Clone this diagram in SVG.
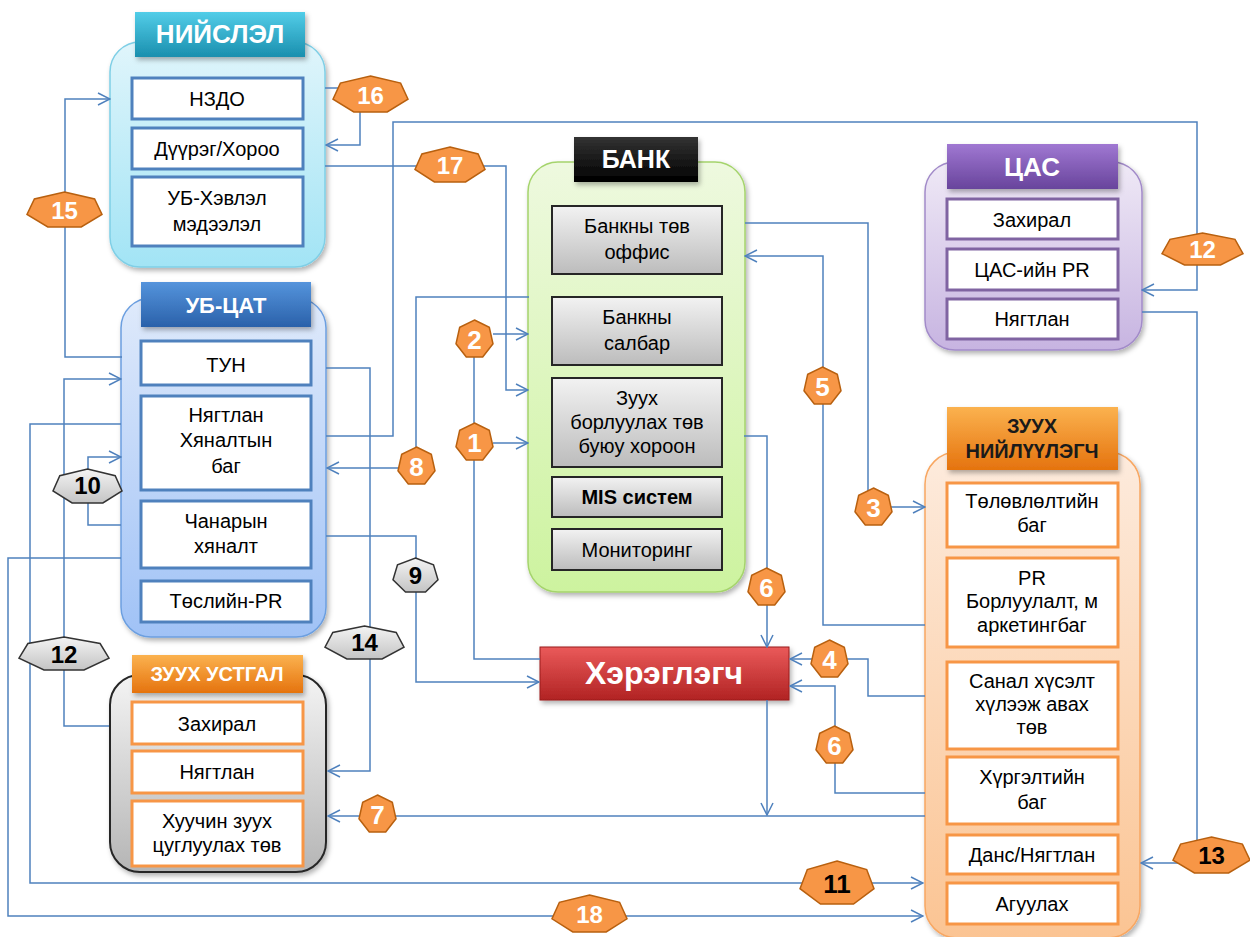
<svg xmlns="http://www.w3.org/2000/svg" width="1250" height="937" viewBox="0 0 1250 937">
<defs>
<style>
.t{font-family:"Liberation Sans",Arial,sans-serif;font-size:20px;fill:#000;text-anchor:middle}
.h{font-family:"Liberation Sans",Arial,sans-serif;font-weight:bold;fill:#fff;text-anchor:middle}
.c{fill:none;stroke:#4f81bd;stroke-width:1.5}
.a{marker-end:url(#ah)}
.ibb{fill:#fff;stroke:#4f81bd;stroke-width:3}
.ibp{fill:#fff;stroke:#8064a2;stroke-width:3}
.ibo{fill:#fff;stroke:#f79646;stroke-width:3}
.ibg{fill:url(#gBtn);stroke:#262626;stroke-width:2}
.bo{fill:#f79646;stroke:#b8600f;stroke-width:1.5}
.bg{fill:url(#gGrayB);stroke:#333;stroke-width:1.5}
.bt{font-family:"Liberation Sans",Arial,sans-serif;font-weight:bold;font-size:26px;text-anchor:middle;fill:#fff}
.bt2{font-family:"Liberation Sans",Arial,sans-serif;font-weight:bold;font-size:24px;text-anchor:middle;fill:#fff}
.bk{fill:#000}
</style>
<marker id="ah" viewBox="0 0 14 14" refX="13" refY="7" markerWidth="14" markerHeight="14" markerUnits="userSpaceOnUse" orient="auto"><path d="M1,1 L13,7 L1,13" fill="none" stroke="#4f81bd" stroke-width="1.5"/></marker>
<filter id="sh" x="-10%" y="-10%" width="130%" height="130%"><feDropShadow dx="2" dy="3" stdDeviation="2.5" flood-color="#000" flood-opacity="0.3"/></filter>
<linearGradient id="gCyan" x1="0" y1="0" x2="0" y2="1"><stop offset="0" stop-color="#e0f5fb"/><stop offset="1" stop-color="#a2e4f5"/></linearGradient>
<linearGradient id="gBlue" x1="0" y1="0" x2="0" y2="1"><stop offset="0" stop-color="#dfeafb"/><stop offset="1" stop-color="#a0c2f6"/></linearGradient>
<linearGradient id="gGreen" x1="0" y1="0" x2="0" y2="1"><stop offset="0" stop-color="#eef9df"/><stop offset="1" stop-color="#cdf39f"/></linearGradient>
<linearGradient id="gLav" x1="0" y1="0" x2="0" y2="1"><stop offset="0" stop-color="#efe9f6"/><stop offset="1" stop-color="#c7b4e1"/></linearGradient>
<linearGradient id="gPeach" x1="0" y1="0" x2="0" y2="1"><stop offset="0" stop-color="#fdebdd"/><stop offset="1" stop-color="#fbc493"/></linearGradient>
<linearGradient id="gGray" x1="0" y1="0" x2="0" y2="1"><stop offset="0" stop-color="#f4f4f4"/><stop offset="1" stop-color="#b5b5b5"/></linearGradient>
<linearGradient id="gBtn" x1="0" y1="0" x2="0" y2="1"><stop offset="0" stop-color="#f2f2f2"/><stop offset="1" stop-color="#bcbcbc"/></linearGradient>
<linearGradient id="gGrayB" x1="0" y1="0" x2="0" y2="1"><stop offset="0" stop-color="#f4f4f4"/><stop offset="1" stop-color="#c4c4c4"/></linearGradient>
<linearGradient id="hTeal" x1="0" y1="0" x2="0" y2="1"><stop offset="0" stop-color="#52cde8"/><stop offset="1" stop-color="#1a8fae"/></linearGradient>
<linearGradient id="hBlue" x1="0" y1="0" x2="0" y2="1"><stop offset="0" stop-color="#5594dc"/><stop offset="1" stop-color="#2a61aa"/></linearGradient>
<linearGradient id="hBlack" x1="0" y1="0" x2="0" y2="1"><stop offset="0" stop-color="#333"/><stop offset="1" stop-color="#000"/></linearGradient>
<linearGradient id="hPurple" x1="0" y1="0" x2="0" y2="1"><stop offset="0" stop-color="#a078d2"/><stop offset="1" stop-color="#68449c"/></linearGradient>
<linearGradient id="hOrange" x1="0" y1="0" x2="0" y2="1"><stop offset="0" stop-color="#fbb24f"/><stop offset="1" stop-color="#e5730e"/></linearGradient>
<linearGradient id="hRed" x1="0" y1="0" x2="0" y2="1"><stop offset="0" stop-color="#ea5a5a"/><stop offset="1" stop-color="#b12323"/></linearGradient>
</defs>
<rect width="1250" height="937" fill="#fff"/>

<g id="node-niislel">
<rect x="110" y="42" width="215" height="225" rx="30" fill="url(#gCyan)" stroke="#7fcfe6" stroke-width="1.5" filter="url(#sh)"/>
<rect x="135" y="12" width="170" height="45" fill="url(#hTeal)" filter="url(#sh)"/>
<text class="h" x="220" y="43" font-size="26">НИЙСЛЭЛ</text>
<rect class="ibb" x="132" y="78" width="171" height="41"/>
<text class="t" x="217" y="106">НЗДО</text>
<rect class="ibb" x="132" y="128" width="171" height="41"/>
<text class="t" x="217" y="156">Дүүрэг/Хороо</text>
<rect class="ibb" x="132" y="177" width="171" height="69"/>
<text class="t" x="217" y="205">УБ-Хэвлэл</text>
<text class="t" x="217" y="231">мэдээлэл</text>
</g>

<g id="node-ubcat">
<rect x="121" y="298" width="205" height="339" rx="30" fill="url(#gBlue)" stroke="#6c9fe0" stroke-width="1.5" filter="url(#sh)"/>
<rect x="141" y="282" width="170" height="45" fill="url(#hBlue)" filter="url(#sh)"/>
<text class="h" x="226" y="313" font-size="22">УБ-ЦАТ</text>
<rect class="ibb" x="141" y="341" width="170" height="44"/>
<text class="t" x="226" y="372" font-size="27">ТУН</text>
<rect class="ibb" x="141" y="396" width="170" height="94"/>
<text class="t" x="226" y="422" font-size="21">Нягтлан</text>
<text class="t" x="226" y="447" font-size="21">Хяналтын</text>
<text class="t" x="226" y="473" font-size="21">баг</text>
<rect class="ibb" x="141" y="501" width="170" height="67"/>
<text class="t" x="226" y="528" font-size="21">Чанарын</text>
<text class="t" x="226" y="553" font-size="21">хяналт</text>
<rect class="ibb" x="141" y="581" width="170" height="41"/>
<text class="t" x="226" y="608">Төслийн-PR</text>
</g>

<g id="node-bank">
<rect x="528" y="162" width="217" height="430" rx="30" fill="url(#gGreen)" stroke="#a5d46c" stroke-width="1.5" filter="url(#sh)"/>
<rect x="574" y="137" width="124" height="45" fill="url(#hBlack)" filter="url(#sh)"/>
<text class="h" x="636" y="168" font-size="25">БАНК</text>
<rect class="ibg" x="552" y="206" width="170" height="68"/>
<text class="t" x="637" y="233">Банкны төв</text>
<text class="t" x="637" y="259">оффис</text>
<rect class="ibg" x="552" y="297" width="170" height="68"/>
<text class="t" x="637" y="324">Банкны</text>
<text class="t" x="637" y="350">салбар</text>
<rect class="ibg" x="552" y="378" width="170" height="89"/>
<text class="t" x="637" y="405">Зуух</text>
<text class="t" x="637" y="429">борлуулах төв</text>
<text class="t" x="637" y="453">буюу хороон</text>
<rect class="ibg" x="552" y="477" width="170" height="40"/>
<text class="t" x="637" y="504" font-weight="bold">MIS систем</text>
<rect class="ibg" x="552" y="529" width="170" height="41"/>
<text class="t" x="637" y="557">Мониторинг</text>
</g>

<g id="node-cas">
<rect x="925" y="162" width="217" height="188" rx="30" fill="url(#gLav)" stroke="#a28bc9" stroke-width="1.5" filter="url(#sh)"/>
<rect x="947" y="144" width="171" height="45" fill="url(#hPurple)" filter="url(#sh)"/>
<text class="h" x="1032" y="176" font-size="26">ЦАС</text>
<rect class="ibp" x="947" y="199" width="171" height="40"/>
<text class="t" x="1032" y="227">Захирал</text>
<rect class="ibp" x="947" y="249" width="171" height="41"/>
<text class="t" x="1032" y="277">ЦАС-ийн PR</text>
<rect class="ibp" x="947" y="299" width="171" height="40"/>
<text class="t" x="1032" y="326">Нягтлан</text>
</g>

<g id="node-supplier">
<rect x="925" y="452" width="215" height="486" rx="32" fill="url(#gPeach)" stroke="#f8a762" stroke-width="1.5" filter="url(#sh)"/>
<rect x="947" y="407" width="171" height="63" fill="url(#hOrange)" filter="url(#sh)"/>
<text class="h" x="1032" y="433" font-size="20" fill="#1a1a1a" style="fill:#1a1a1a">ЗУУХ</text>
<text class="h" x="1032" y="458" font-size="20" style="fill:#1a1a1a">НИЙЛҮҮЛЭГЧ</text>
<rect class="ibo" x="947" y="483" width="171" height="64"/>
<text class="t" x="1032" y="508">Төлөвлөлтийн</text>
<text class="t" x="1032" y="532">баг</text>
<rect class="ibo" x="947" y="558" width="171" height="89"/>
<text class="t" x="1032" y="585">PR</text>
<text class="t" x="1032" y="608">Борлуулалт, м</text>
<text class="t" x="1032" y="632">аркетингбаг</text>
<rect class="ibo" x="947" y="662" width="171" height="87"/>
<text class="t" x="1032" y="688">Санал хүсэлт</text>
<text class="t" x="1032" y="711">хүлээж авах</text>
<text class="t" x="1032" y="734">төв</text>
<rect class="ibo" x="947" y="757" width="171" height="67"/>
<text class="t" x="1032" y="784">Хүргэлтийн</text>
<text class="t" x="1032" y="809">баг</text>
<rect class="ibo" x="947" y="835" width="171" height="39"/>
<text class="t" x="1032" y="862">Данс/Нягтлан</text>
<rect class="ibo" x="947" y="883" width="171" height="41"/>
<text class="t" x="1032" y="911">Агуулах</text>
</g>

<g id="node-disposal">
<rect x="110" y="675" width="216" height="197" rx="30" fill="url(#gGray)" stroke="#262626" stroke-width="2" filter="url(#sh)"/>
<rect x="132" y="655" width="171" height="38" fill="url(#hOrange)" filter="url(#sh)"/>
<text class="h" x="217" y="681" font-size="20">ЗУУХ УСТГАЛ</text>
<rect class="ibo" x="132" y="702" width="171" height="42"/>
<text class="t" x="217" y="731">Захирал</text>
<rect class="ibo" x="132" y="751" width="171" height="42"/>
<text class="t" x="217" y="779">Нягтлан</text>
<rect class="ibo" x="132" y="801" width="171" height="65"/>
<text class="t" x="217" y="828">Хуучин зуух</text>
<text class="t" x="217" y="852">цуглуулах төв</text>
</g>

<g id="node-consumer">
<rect x="540" y="647" width="249" height="53" fill="url(#hRed)" stroke="#9a1c1c" stroke-width="1" filter="url(#sh)"/>
<text class="h" x="664" y="684" font-size="32">Хэрэглэгч</text>
</g>

<g id="connectors">
<path class="c" d="M325,88 H340"/>
<path class="c a" d="M360,110 V145 H326"/>
<path class="c a" d="M122,357 H65 V99 H110"/>
<path class="c a" d="M325,166 H506 V390 H528"/>
<path class="c a" d="M326,436 H393 V122 H1197 V290 H1142"/>
<path class="c a" d="M1142,312 H1197 V863 H1141"/>
<path class="c a" d="M529,297 H416 V468 H327"/>
<path class="c a" d="M493,334 H528"/>
<path class="c a" d="M493,443 H528"/>
<path class="c" d="M474,338 V659 H540"/>
<path class="c a" d="M326,536 H416 V682 H539"/>
<path class="c a" d="M326,368 H370 V771 H328"/>
<path class="c a" d="M121,525 H88 V457 H121"/>
<path class="c a" d="M109,726 H64 V379 H121"/>
<path class="c a" d="M121,424 H30 V883 H923"/>
<path class="c a" d="M121,558 H8 V916 H923"/>
<path class="c a" d="M745,223 H868 V507 H925"/>
<path class="c a" d="M925,625 H823 V256 H745"/>
<path class="c a" d="M744,436 H767 V647"/>
<path class="c a" d="M925,696 H868 V659 H790"/>
<path class="c a" d="M925,793 H835 V686 H790"/>
<path class="c a" d="M925,816 H328"/>
<path class="c a" d="M767,700 V815"/>
</g>

<g id="labels">
<polygon class="bo" points="370.5,76 400.6,83.1 408,99.2 387.2,112 353.8,112 333,99.2 340.4,83.1"/>
<text class="bt2" x="370.5" y="104">16</text>
<polygon class="bo" points="64.5,192 94.6,198.9 102,214.5 81.2,227 47.8,227 27,214.5 34.4,198.9"/>
<text class="bt2" x="64.5" y="219">15</text>
<polygon class="bo" points="450,147 478.1,153.9 485,169.5 465.6,182 434.4,182 415,169.5 421.9,153.9"/>
<text class="bt2" x="450" y="174">17</text>
<polygon class="bo" points="1202.5,233 1235,239.3 1243,253.6 1220.5,265 1184.5,265 1162,253.6 1170,239.3"/>
<text class="bt2" x="1202.5" y="258">12</text>
<polygon class="bo" points="474.5,320 489.3,327.3 493,343.8 482.7,357 466.3,357 456,343.8 459.7,327.3"/>
<text class="bt" x="474.5" y="349">2</text>
<polygon class="bo" points="474.5,423 489.3,430.3 493,446.8 482.7,460 466.3,460 456,446.8 459.7,430.3"/>
<text class="bt" x="474.5" y="452">1</text>
<polygon class="bo" points="416.5,447 431.3,454.3 435,470.8 424.7,484 408.3,484 398,470.8 401.7,454.3"/>
<text class="bt" x="416.5" y="476">8</text>
<polygon class="bo" points="822.5,367 837.3,374.3 841,390.8 830.7,404 814.3,404 804,390.8 807.7,374.3"/>
<text class="bt" x="822.5" y="396">5</text>
<polygon class="bo" points="873.5,488 888.3,495.3 892,511.8 881.7,525 865.3,525 855,511.8 858.7,495.3"/>
<text class="bt" x="873.5" y="517">3</text>
<polygon class="bo" points="766.5,568 781.3,575.3 785,591.8 774.7,605 758.3,605 748,591.8 751.7,575.3"/>
<text class="bt" x="766.5" y="597">6</text>
<polygon class="bo" points="829.5,640 844.3,647.3 848,663.8 837.7,677 821.3,677 811,663.8 814.7,647.3"/>
<text class="bt" x="829.5" y="669">4</text>
<polygon class="bo" points="834.5,726 849.3,733.3 853,749.8 842.7,763 826.3,763 816,749.8 819.7,733.3"/>
<text class="bt" x="834.5" y="755">6</text>
<polygon class="bo" points="377.5,795 392.3,802.3 396,818.8 385.7,832 369.3,832 359,818.8 362.7,802.3"/>
<text class="bt" x="377.5" y="824">7</text>
<polygon class="bo" points="837,861 866.7,869.5 874,888.7 853.5,904 820.5,904 800,888.7 807.3,869.5"/>
<text class="bt bk" x="837" y="893" style="fill:#000">11</text>
<polygon class="bo" points="1211.5,837 1242.4,844.1 1250,860.2 1228.6,873 1194.4,873 1173,860.2 1180.6,844.1"/>
<text class="bt2" x="1211.5" y="864" style="fill:#000">13</text>
<polygon class="bo" points="589.5,895 619.6,902.3 627,918.8 606.2,932 572.8,932 552,918.8 559.4,902.3"/>
<text class="bt2" x="589.5" y="923">18</text>
<polygon class="bg" points="415.5,558 433.5,564.7 438,579.9 425.5,592 405.5,592 393,579.9 397.5,564.7"/>
<text class="bt2" x="415.5" y="584" style="fill:#000">9</text>
<polygon class="bg" points="87.5,469 115.2,475.7 122,490.9 102.9,503 72.1,503 53,490.9 59.8,475.7"/>
<text class="bt2" x="87.5" y="494" style="fill:#000">10</text>
<polygon class="bg" points="64,637 100.1,643.5 109,658.2 84,670 44,670 19,658.2 27.9,643.5"/>
<text class="bt2" x="64" y="663" style="fill:#000">12</text>
<polygon class="bg" points="364.5,626 396.2,632.5 404,647.2 382.1,659 346.9,659 325,647.2 332.8,632.5"/>
<text class="bt2" x="364.5" y="651" style="fill:#000">14</text>
</g>
</svg>
